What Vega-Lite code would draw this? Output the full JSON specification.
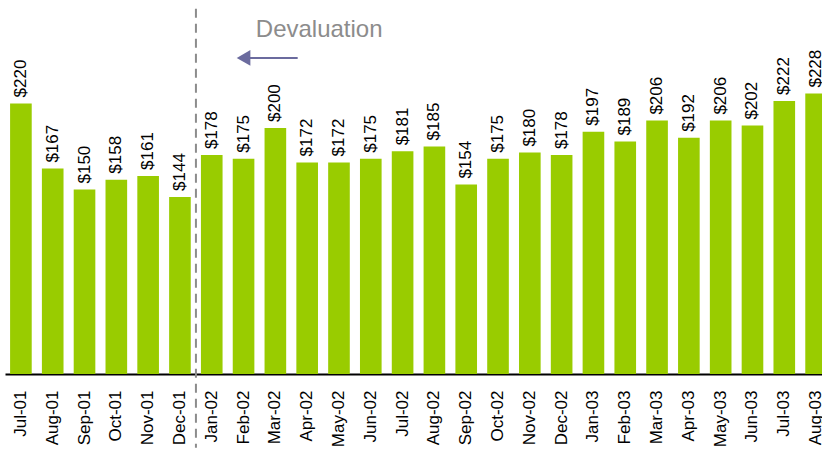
{
  "$schema": "https://vega.github.io/schema/vega-lite/v6.json",
  "width": 827,
  "height": 369,
  "background": "white",
  "config": {"view": {"stroke": null}, "font": "Liberation Sans"},
  "datasets": {
    "bars": [
      {"m": "Jul-01", "v": 220}, {"m": "Aug-01", "v": 167}, {"m": "Sep-01", "v": 150},
      {"m": "Oct-01", "v": 158}, {"m": "Nov-01", "v": 161}, {"m": "Dec-01", "v": 144},
      {"m": "Jan-02", "v": 178}, {"m": "Feb-02", "v": 175}, {"m": "Mar-02", "v": 200},
      {"m": "Apr-02", "v": 172}, {"m": "May-02", "v": 172}, {"m": "Jun-02", "v": 175},
      {"m": "Jul-02", "v": 181}, {"m": "Aug-02", "v": 185}, {"m": "Sep-02", "v": 154},
      {"m": "Oct-02", "v": 175}, {"m": "Nov-02", "v": 180}, {"m": "Dec-02", "v": 178},
      {"m": "Jan-03", "v": 197}, {"m": "Feb-03", "v": 189}, {"m": "Mar-03", "v": 206},
      {"m": "Apr-03", "v": 192}, {"m": "May-03", "v": 206}, {"m": "Jun-03", "v": 202},
      {"m": "Jul-03", "v": 222}, {"m": "Aug-03", "v": 228}
    ],
    "divider": [{"m": "Jan-02", "y1": 297, "y2": -60}],
    "note": [{"m": "Apr-02", "y": 274, "label": "Devaluation"}],
    "arrow": [{"m": "Feb-02", "m2": "Apr-02", "y": 257}]
  },
  "layer": [
    {
      "data": {"name": "bars"},
      "mark": {"type": "bar", "color": "#99cc00"},
      "encoding": {
        "x": {
          "field": "m", "type": "ordinal", "sort": null,
          "scale": {
            "domain": ["Jul-01","Aug-01","Sep-01","Oct-01","Nov-01","Dec-01","Jan-02","Feb-02","Mar-02","Apr-02","May-02","Jun-02","Jul-02","Aug-02","Sep-02","Oct-02","Nov-02","Dec-02","Jan-03","Feb-03","Mar-03","Apr-03","May-03","Jun-03","Jul-03","Aug-03"],
            "paddingInner": 0.32, "paddingOuter": 0.16
          },
          "axis": {
            "title": null, "labelAngle": -90, "labelFontSize": 17, "labelColor": "#000000",
            "labelFont": "Liberation Sans", "ticks": false, "labelPadding": 16,
            "domainColor": "#000000", "domainWidth": 2
          }
        },
        "y": {
          "field": "v", "type": "quantitative",
          "scale": {"domain": [0, 300], "nice": false},
          "axis": null
        }
      }
    },
    {
      "data": {"name": "bars"},
      "mark": {"type": "text", "angle": -90, "align": "left", "baseline": "middle", "dx": 6, "fontSize": 17, "color": "#000000"},
      "encoding": {
        "x": {"field": "m", "type": "ordinal"},
        "y": {"field": "v", "type": "quantitative"},
        "text": {"field": "v", "type": "quantitative", "format": "$d"}
      }
    },
    {
      "data": {"name": "divider"},
      "mark": {"type": "rule", "color": "#8c8c8c", "strokeWidth": 2, "strokeDash": [9, 6], "xOffset": -5},
      "encoding": {
        "x": {"field": "m", "type": "ordinal", "bandPosition": 0},
        "y": {"field": "y1", "type": "quantitative"},
        "y2": {"field": "y2"}
      }
    },
    {
      "data": {"name": "note"},
      "mark": {"type": "text", "align": "center", "baseline": "alphabetic", "fontSize": 24, "color": "#8c8c8c", "dx": 12},
      "encoding": {
        "x": {"field": "m", "type": "ordinal"},
        "y": {"field": "y", "type": "quantitative"},
        "text": {"field": "label"}
      }
    },
    {
      "data": {"name": "arrow"},
      "mark": {"type": "rule", "color": "#6b6b9e", "strokeWidth": 2, "x2Offset": -9.5},
      "encoding": {
        "x": {"field": "m", "type": "ordinal"},
        "x2": {"field": "m2"},
        "y": {"field": "y", "type": "quantitative"}
      }
    },
    {
      "data": {"name": "arrow"},
      "mark": {"type": "point", "shape": "triangle-left", "filled": true, "size": 250, "color": "#6b6b9e", "opacity": 1},
      "encoding": {
        "x": {"field": "m", "type": "ordinal"},
        "y": {"field": "y", "type": "quantitative"}
      }
    }
  ]
}
